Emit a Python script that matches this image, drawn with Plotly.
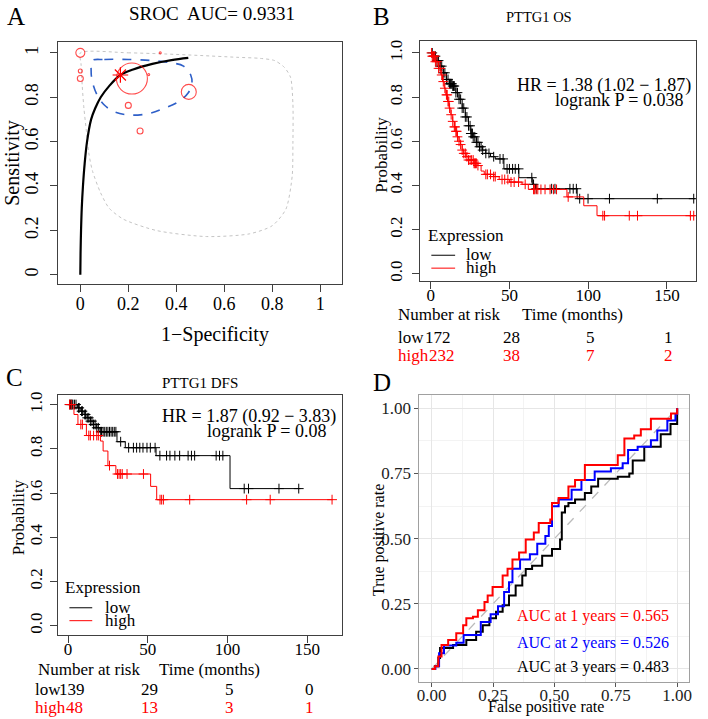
import numpy as np
import plotly.graph_objects as go

W, H = 708, 719
FONT = "Liberation Serif"

def fx(p):
    return p / W

def fy(p):
    return 1 - p / H

# ---------------- Panel A: SROC ----------------
sroc_fpr = [0, 0.001, 0.003, 0.006, 0.011, 0.018, 0.028, 0.045, 0.062, 0.085, 0.12, 0.167, 0.22, 0.30, 0.38, 0.45]
sroc_sens = [0, 0.10, 0.20, 0.30, 0.40, 0.50, 0.60, 0.70, 0.75, 0.80, 0.85, 0.90, 0.925, 0.95, 0.967, 0.977]
study_fpr = [0.0, 0.0, 0.0, 0.215, 0.452, 0.20, 0.249, 0.285, 0.333]
study_sens = [1.0, 0.918, 0.884, 0.884, 0.824, 0.763, 0.648, 0.902, 1.0]
study_size = [9, 4, 6, 31, 15, 6, 6, 2, 2]
summary_fpr = [0.167]
summary_sens = [0.90]
conf_fpr = [0.05, 0.10, 0.20, 0.30, 0.38, 0.43, 0.46, 0.465, 0.45, 0.41, 0.35, 0.28, 0.20, 0.14, 0.10, 0.07, 0.05, 0.045, 0.05]
conf_sens = [0.965, 0.97, 0.97, 0.965, 0.955, 0.94, 0.90, 0.86, 0.82, 0.78, 0.75, 0.725, 0.72, 0.735, 0.765, 0.81, 0.87, 0.92, 0.965]
pred_fpr = [0, 0.2, 0.35, 0.5, 0.65, 0.75, 0.81, 0.85, 0.876, 0.886, 0.886, 0.883, 0.857, 0.80, 0.704, 0.525, 0.318,
            0.18, 0.12, 0.084, 0.05, 0.035, 0.025, 0.015, 0.008, 0.003, 0]
pred_sens = [1.0, 1.0, 0.995, 0.988, 0.98, 0.975, 0.965, 0.935, 0.89, 0.77, 0.594, 0.445, 0.296, 0.221, 0.184, 0.172, 0.199,
             0.25, 0.30, 0.37, 0.47, 0.55, 0.65, 0.75, 0.85, 0.95, 1.0]
a_ticks = [0, 0.2, 0.4, 0.6, 0.8, 1]
a_ticktext = ["0", "0.2", "0.4", "0.6", "0.8", "1"]

# ---------------- Panel B: PTTG1 OS ----------------
os_low_t = [0, 2, 4, 6, 8, 10, 12, 14, 16, 18, 20, 22, 24, 25.5, 27, 29, 31, 33, 35, 38, 41, 46.5, 56, 64.5, 66.5, 93, 168]
os_low_s = [1.0, 0.985, 0.965, 0.94, 0.91, 0.88, 0.86, 0.85, 0.82, 0.79, 0.75, 0.71, 0.67, 0.635, 0.62, 0.595, 0.575, 0.56, 0.545, 0.53, 0.52, 0.475, 0.435, 0.405, 0.385, 0.34, 0.34]
os_high_t = [0, 1, 3, 5, 6.5, 7.5, 8.6, 9.6, 10.7, 11.7, 12.8, 14, 15, 16, 17, 18, 19, 20, 21, 22.5, 24, 27.5, 30, 32, 34, 40, 43.5, 50, 58, 62, 86.5, 97.2, 105.6, 167]
os_high_s = [1.0, 0.985, 0.96, 0.93, 0.90, 0.87, 0.84, 0.81, 0.78, 0.75, 0.72, 0.69, 0.665, 0.645, 0.62, 0.60, 0.585, 0.56, 0.545, 0.53, 0.515, 0.50, 0.49, 0.465, 0.45, 0.44, 0.427, 0.415, 0.405, 0.382, 0.348, 0.308, 0.263, 0.263]
os_low_cens = [1, 2, 3, 4, 5, 6, 7, 8, 9, 10, 11, 12, 12.5, 13, 13.5, 14, 14.5, 15, 16, 17, 18, 19, 20, 21, 22, 23, 24,
               25, 25.5, 26, 26.5, 27, 28, 29, 30, 31, 32, 33, 35, 37, 40, 44, 46, 48.5, 50, 52, 53.7, 55.8, 64.2, 65.3,
               67, 76.8, 78.9, 88.4, 90.5, 92.5, 94.6, 99.9, 113.5, 143.9, 167]
os_high_cens = [0.5, 1, 1.5, 2, 2.5, 3, 4, 5, 6, 7, 8, 9, 10, 10.5, 11, 11.5, 12, 13, 14, 15, 15.5, 16, 16.5, 17, 18, 19,
                20, 21, 22, 23, 24, 25, 26, 27, 27.5, 28, 28.5, 29, 30, 35, 36, 38, 40, 41, 45.3, 47, 49, 51, 53, 55.8,
                60, 65.3, 66, 67, 68, 70, 72.6, 75.8, 78, 79.9, 87.3, 109.3, 110.4, 126.1, 131.3, 164.9, 167]
os_risk_t = [0, 50, 100, 150]
os_risk_low = [172, 28, 5, 1]
os_risk_high = [232, 38, 7, 2]

# ---------------- Panel C: PTTG1 DFS ----------------
dfs_low_t = [0, 6, 8, 10, 12, 14, 16, 18, 20, 30.7, 35.9, 55.2, 101.6, 145.8]
dfs_low_s = [1.0, 0.985, 0.97, 0.955, 0.94, 0.925, 0.91, 0.895, 0.877, 0.832, 0.805, 0.769, 0.62, 0.62]
dfs_high_t = [0, 3.7, 6.2, 11.5, 20.3, 22, 25, 30, 51.8, 55.6, 166]
dfs_high_s = [1.0, 0.955, 0.91, 0.86, 0.835, 0.79, 0.724, 0.686, 0.63, 0.57, 0.57]
dfs_low_cens = [1, 1.5, 2, 2.5, 3, 4, 5, 6.5, 7, 8.5, 9, 10.5, 11, 12, 13, 14, 15, 16, 17, 18, 19, 20.5, 21, 22, 23, 24,
                25, 26, 27, 28, 29, 30, 33, 38, 41, 43, 45, 47, 49.5, 51.6, 54.6, 57.6, 61.8, 63.9, 67, 70, 75.3, 77.4,
                79.4, 92.9, 95, 97.1, 110.5, 113.2, 132.3, 144.7]
dfs_high_cens = [1, 2, 8, 9, 13, 14, 16, 18, 19, 26, 31, 32, 33, 34, 37, 47.3, 57.7, 58.7, 59.8, 76.3, 112, 126.8, 165.6]
dfs_risk_t = [0, 50, 100, 150]
dfs_risk_low = [139, 29, 5, 0]
dfs_risk_high = [48, 13, 3, 1]
km_ticks = [0, 50, 100, 150]
prob_ticks = [0, 0.2, 0.4, 0.6, 0.8, 1.0]
prob_ticktext = ["0.0", "0.2", "0.4", "0.6", "0.8", "1.0"]

# ---------------- Panel D: time-dependent ROC ----------------
roc1_fpr = [0, 0.013, 0.027, 0.04, 0.067, 0.10, 0.128, 0.141, 0.168, 0.188, 0.215, 0.228, 0.248, 0.289, 0.309, 0.329, 0.356,
            0.383, 0.416, 0.436, 0.483, 0.49, 0.517, 0.557, 0.584, 0.624, 0.718, 0.758, 0.785, 0.825, 0.852, 0.893, 0.96, 0.975, 1.0]
roc1_tpr = [0, 0.01, 0.048, 0.092, 0.111, 0.137, 0.168, 0.194, 0.20, 0.225, 0.257, 0.282, 0.314, 0.358, 0.384, 0.42, 0.447,
            0.497, 0.523, 0.56, 0.573, 0.637, 0.656, 0.70, 0.725, 0.782, 0.782, 0.82, 0.884, 0.896, 0.92, 0.96, 0.96, 0.98, 1.0]
roc2_fpr = [0, 0.015, 0.03, 0.05, 0.10, 0.13, 0.20, 0.24, 0.27, 0.295, 0.315, 0.329, 0.36, 0.40, 0.43, 0.463, 0.477, 0.49,
            0.517, 0.57, 0.61, 0.664, 0.73, 0.778, 0.80, 0.839, 0.893, 0.919, 0.96, 0.993, 1.0]
roc2_tpr = [0, 0.01, 0.06, 0.09, 0.10, 0.13, 0.18, 0.21, 0.24, 0.295, 0.333, 0.384, 0.42, 0.44, 0.48, 0.51, 0.548, 0.624,
            0.65, 0.687, 0.725, 0.757, 0.77, 0.789, 0.84, 0.852, 0.877, 0.915, 0.953, 0.978, 1.0]
roc3_fpr = [0, 0.013, 0.027, 0.034, 0.087, 0.141, 0.181, 0.208, 0.235, 0.262, 0.289, 0.315, 0.342, 0.369, 0.383, 0.409,
            0.45, 0.49, 0.523, 0.53, 0.543, 0.557, 0.584, 0.624, 0.65, 0.678, 0.758, 0.805, 0.819, 0.866, 0.933, 0.973, 1.0, 1.0]
roc3_tpr = [0, 0.01, 0.042, 0.08, 0.092, 0.111, 0.143, 0.168, 0.194, 0.219, 0.244, 0.282, 0.32, 0.358, 0.383, 0.396,
            0.434, 0.46, 0.497, 0.60, 0.624, 0.637, 0.65, 0.675, 0.70, 0.73, 0.737, 0.75, 0.80, 0.852, 0.90, 0.94, 0.99, 1.0]
roc_ticks = [0, 0.25, 0.5, 0.75, 1.0]
roc_ticktext = ["0.00", "0.25", "0.50", "0.75", "1.00"]
auc_labels = ["AUC at 1 years = 0.565", "AUC at 2 years = 0.526", "AUC at 3 years = 0.483"]
auc_colors = ["#FF0000", "#0000FF", "#000000"]

RED = "#FF0000"


def surv_at(ts, ss, times):
    ts = np.asarray(ts)
    ss = np.asarray(ss)
    idx = np.searchsorted(ts, np.asarray(times), side="right") - 1
    return ss[np.clip(idx, 0, len(ss) - 1)]


fig = go.Figure()

# Panel A traces
fig.add_trace(go.Scatter(x=pred_fpr, y=pred_sens, mode="lines",
                         line=dict(color="#C4C4C4", width=1, dash="dot", shape="spline", smoothing=0.7),
                         xaxis="x", yaxis="y", hoverinfo="skip"))
fig.add_trace(go.Scatter(x=conf_fpr, y=conf_sens, mode="lines",
                         line=dict(color="#2E5FC8", width=1.6, dash="dash", shape="spline"),
                         xaxis="x", yaxis="y"))
fig.add_trace(go.Scatter(x=sroc_fpr, y=sroc_sens, mode="lines", line=dict(color="black", width=2.2, shape="spline"),
                         xaxis="x", yaxis="y"))
fig.add_trace(go.Scatter(x=study_fpr, y=study_sens, mode="markers",
                         marker=dict(symbol="circle-open", size=study_size, color=RED, line=dict(width=1.1, color=RED)),
                         xaxis="x", yaxis="y"))
fig.add_trace(go.Scatter(x=summary_fpr, y=summary_sens, mode="markers",
                         marker=dict(symbol="asterisk-open", size=13, color=RED, line=dict(width=1.2, color=RED)),
                         xaxis="x", yaxis="y"))

# Panels B & C traces
for t, s, cens, col, ax in [(os_low_t, os_low_s, os_low_cens, "black", "2"),
                            (os_high_t, os_high_s, os_high_cens, RED, "2"),
                            (dfs_low_t, dfs_low_s, dfs_low_cens, "black", "3"),
                            (dfs_high_t, dfs_high_s, dfs_high_cens, RED, "3")]:
    fig.add_trace(go.Scatter(x=t, y=s, mode="lines", line=dict(color=col, width=1, shape="hv"),
                             xaxis="x" + ax, yaxis="y" + ax))
    fig.add_trace(go.Scatter(x=cens, y=surv_at(t, s, cens), mode="markers",
                             marker=dict(symbol="cross-thin", size=7, color=col, line=dict(width=1, color=col)),
                             xaxis="x" + ax, yaxis="y" + ax))

# Panel D traces
fig.add_trace(go.Scatter(x=[0, 1], y=[0, 1], mode="lines", line=dict(color="#BBBBBB", width=1.3, dash="dash"),
                         xaxis="x4", yaxis="y4"))
for fp, tp, col in [(roc3_fpr, roc3_tpr, "black"), (roc2_fpr, roc2_tpr, "#0000FF"), (roc1_fpr, roc1_tpr, RED)]:
    fig.add_trace(go.Scatter(x=fp, y=tp, mode="lines", line=dict(color=col, width=2, shape="hv"),
                             xaxis="x4", yaxis="y4"))

# ---------------- Axes ----------------
R_AX = dict(showline=True, mirror=True, linecolor="#404040", linewidth=1, ticks="outside", ticklen=7,
            tickwidth=1, tickcolor="#404040", showgrid=False, zeroline=False,
            tickfont=dict(family=FONT, size=18, color="black"))
KM_FONT = dict(family=FONT, size=17, color="black")
D_FONT = dict(family=FONT, size=17, color="#222")

layout = dict(
    width=W, height=H, margin=dict(l=0, r=0, t=0, b=0), showlegend=False,
    paper_bgcolor="white", plot_bgcolor="white", font=dict(family=FONT, color="black"),
    xaxis=dict(R_AX, domain=[fx(55), fx(342)], range=[-0.095, 1.091], tickvals=a_ticks, ticktext=a_ticktext,
               anchor="y", ticklabelstandoff=-4),
    yaxis=dict(R_AX, domain=[fy(282), fy(38)], range=[-0.042, 1.05], tickvals=a_ticks, ticktext=a_ticktext,
               anchor="x", tickangle=-90, ticklabelstandoff=4),
    xaxis2=dict(R_AX, domain=[fx(420.7), fx(699)], range=[-6.7, 168.5], tickvals=km_ticks, anchor="y2",
                ticklabelstandoff=-8, tickfont=KM_FONT),
    yaxis2=dict(R_AX, domain=[fy(279), fy(37)], range=[-0.033, 1.055], tickvals=prob_ticks, ticktext=prob_ticktext,
                anchor="x2", tickangle=-90, ticklabelstandoff=3, tickfont=KM_FONT),
    xaxis3=dict(R_AX, domain=[fx(55), fx(342)], range=[-6.6, 171.9], tickvals=km_ticks, anchor="y3",
                ticklabelstandoff=-8, tickfont=KM_FONT),
    yaxis3=dict(R_AX, domain=[fy(635), fy(394)], range=[-0.04, 1.042], tickvals=prob_ticks, ticktext=prob_ticktext,
                anchor="x3", tickangle=-90, ticklabelstandoff=1, tickfont=KM_FONT),
    xaxis4=dict(domain=[fx(420), fx(692.3)], range=[-0.05, 1.05], tickvals=roc_ticks, ticktext=roc_ticktext,
                anchor="y4", showline=True, mirror=True, linecolor="#A0A0A0", linewidth=1, ticks="outside",
                ticklen=4, tickcolor="#555", showgrid=True, gridcolor="#E6E6E6", gridwidth=1, zeroline=False,
                minor=dict(tickvals=[0.125, 0.375, 0.625, 0.875], showgrid=True, gridcolor="#F3F3F3", ticks=""),
                tickfont=D_FONT, ticklabelstandoff=-6),
    yaxis4=dict(domain=[fy(682.7), fy(394)], range=[-0.05, 1.05], tickvals=roc_ticks, ticktext=roc_ticktext,
                anchor="x4", showline=True, mirror=True, linecolor="#A0A0A0", linewidth=1, ticks="outside",
                ticklen=4, tickcolor="#555", showgrid=True, gridcolor="#E6E6E6", gridwidth=1, zeroline=False,
                minor=dict(tickvals=[0.125, 0.375, 0.625, 0.875], showgrid=True, gridcolor="#F3F3F3", ticks=""),
                tickfont=D_FONT),
)

ann = []


def txt(text, x, y, size=17, color="black", xanchor="center", angle=0):
    ann.append(dict(text=text, x=fx(x), y=fy(y), xref="paper", yref="paper", showarrow=False,
                    xanchor=xanchor, yanchor="middle", textangle=angle,
                    font=dict(family=FONT, size=size, color=color)))


# Panel letters
txt("A", 13, 13, size=25)
txt("B", 382, 13, size=25)
txt("C", 12, 376, size=25)
txt("D", 382, 381, size=25)

# Panel A text
txt("SROC  AUC= 0.9331", 211, 10, size=19)
txt("1\u2212Specificity", 214, 333, size=20)
txt("Sensitivity", 10, 160, size=20, angle=-90)

# Panel B text
txt("PTTG1 OS", 541, 13, size=14.5)
txt("Probability", 382, 152, size=17, angle=-90)
txt("HR = 1.38 (1.02 \u2212 1.87)", 696, 82, size=18, xanchor="right")
txt("logrank P = 0.038", 688, 97, size=18, xanchor="right")
txt("Expression", 427, 233, size=17, xanchor="left")
txt("low", 465, 252, size=17, xanchor="left")
txt("high", 465, 265, size=17, xanchor="left")
txt("Number at risk", 396, 313, size=17, xanchor="left")
txt("Time (months)", 574, 313, size=17)
txt("low", 396, 336, size=17, xanchor="left")
txt("high", 396, 354, size=17, xanchor="left", color=RED)

# Panel C text
txt("PTTG1 DFS", 199, 382, size=15)
txt("Probability", 16, 517, size=17, angle=-90)
txt("HR = 1.87 (0.92 \u2212 3.83)", 338, 415, size=18, xanchor="right")
txt("logrank P = 0.08", 328, 430, size=18, xanchor="right")
txt("Expression", 61, 588, size=17, xanchor="left")
txt("low", 101, 608, size=17, xanchor="left")
txt("high", 101, 621, size=17, xanchor="left")
txt("Number at risk", 33, 670, size=17, xanchor="left")
txt("Time (months)", 208, 670, size=17)
txt("low", 30, 690, size=17, xanchor="left")
txt("high", 30, 708, size=17, xanchor="left", color=RED)

# Panel D text
txt("True positive rate", 379, 540, size=16, angle=-90)
txt("False positive rate", 548, 708, size=16)
for i, (lab, col) in enumerate(zip(auc_labels, auc_colors)):
    txt(lab, 516, [616, 643, 668][i], size=16, color=col, xanchor="left")

# risk table numbers (data x positions)
for axname, ts, lows, highs, ylow, yhigh, s_low, s_high in [
        ("x2", os_risk_t, os_risk_low, os_risk_high, 336, 354, 7, 11),
        ("x3", dfs_risk_t, dfs_risk_low, dfs_risk_high, 690, 708, 4, 6)]:
    for i, t in enumerate(ts):
        ann.append(dict(text=str(lows[i]), x=t, xref=axname, y=fy(ylow), yref="paper", showarrow=False,
                        xanchor="center", yanchor="middle", xshift=s_low if i == 0 else 2,
                        font=dict(family=FONT, size=17, color="black")))
        ann.append(dict(text=str(highs[i]), x=t, xref=axname, y=fy(yhigh), yref="paper", showarrow=False,
                        xanchor="center", yanchor="middle", xshift=s_high if i == 0 else 2,
                        font=dict(family=FONT, size=17, color=RED)))

layout["annotations"] = ann

# legend line keys
shapes = []
for (x0, x1, y, col) in [(432, 456, 253, "black"), (432, 456, 266, RED), (67, 90, 608, "black"), (67, 90, 621, RED)]:
    shapes.append(dict(type="line", xref="paper", yref="paper", x0=fx(x0), x1=fx(x1), y0=fy(y), y1=fy(y),
                       line=dict(color=col, width=1)))
layout["shapes"] = shapes

fig.update_layout(**layout)
fig.write_html("out.html", config={"displayModeBar": False},
               post_script="document.body.style.margin='0px';document.body.style.padding='0px';document.body.style.overflow='hidden';")
